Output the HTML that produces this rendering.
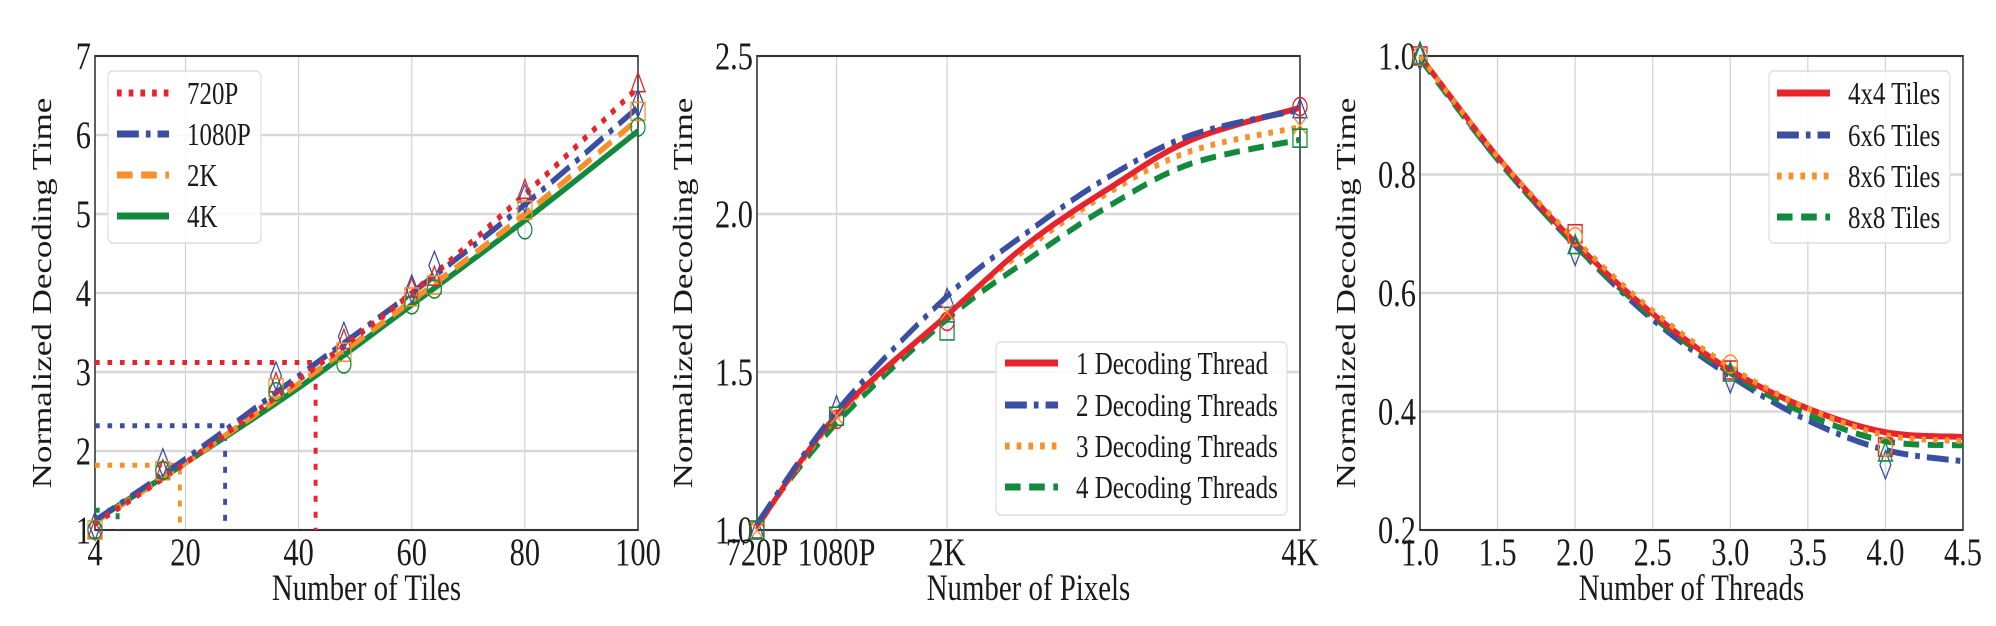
<!DOCTYPE html>
<html><head><meta charset="utf-8"><title>Normalized decoding time charts</title>
<style>
html,body{margin:0;padding:0;background:#fff;}
svg{display:block;}
text{font-family:"Liberation Serif","DejaVu Serif",serif;fill:#1a1a1a;}
</style></head>
<body>
<svg id="fig" width="1996" height="626" viewBox="0 0 2559 626" preserveAspectRatio="none" xmlns="http://www.w3.org/2000/svg"></svg>
<script>
// ---------- Chart 1: Number of Tiles ----------
const c1Names = ["720P","1080P","2K","4K"];
const c1LineX = [4,20,40,60,80,100];
const c1Line720 = [1.08,1.85,2.9,4.0,5.25,6.6];
const c1Line1080 = [1.12,1.9,2.95,4.0,5.12,6.35];
const c1Line2K = [1.1,1.85,2.85,3.9,5.0,6.2];
const c1Line4K = [1.12,1.85,2.8,3.85,4.92,6.05];
const c1MarkX = [4,16,36,48,60,64,80,100];
const c1Mark720 = [1.0,1.75,2.85,3.4,4.05,4.2,5.3,6.65];
const c1Mark1080 = [1.05,1.85,2.95,3.45,4.05,4.35,5.2,6.4];
const c1Mark2K = [1.0,1.75,2.8,3.25,3.95,4.1,5.05,6.3];
const c1Mark4K = [1.0,1.75,2.75,3.1,3.85,4.05,4.8,6.1];
const c1RefY = [3.12,2.32,1.82,1.25];
const c1RefX = [43,27,19,8];
const c1XTicks = [4,20,40,60,80,100];
const c1YTicks = [1,2,3,4,5,6,7];

// ---------- Chart 2: Number of Pixels ----------
const c2Names = ["1 Decoding Thread","2 Decoding Threads","3 Decoding Threads","4 Decoding Threads"];
const c2LineX = [0.92,2.0,3.5,4.6,5.71,6.82,8.29];
const c2Line1 = [1.01,1.364,1.68,1.907,2.083,2.235,2.336];
const c2Line2 = [1.02,1.376,1.74,1.944,2.12,2.25,2.33];
const c2Line3 = [1.01,1.357,1.68,1.894,2.07,2.2,2.275];
const c2Line4 = [1.02,1.338,1.667,1.856,2.027,2.16,2.235];
const c2MarkX = [0.92,2.0,3.5,8.29];
const c2Mark1 = [1.0,1.35,1.66,2.34];
const c2Mark2 = [1.0,1.39,1.73,2.33];
const c2Mark3 = [1.0,1.36,1.69,2.28];
const c2Mark4 = [1.0,1.36,1.63,2.24];
const c2XTickLabels = ["720P","1080P","2K","4K"];
const c2YTicks = [1.0,1.5,2.0,2.5];

// ---------- Chart 3: Number of Threads ----------
const c3Names = ["4x4 Tiles","6x6 Tiles","8x6 Tiles","8x8 Tiles"];
const c3LineX = [1,1.5,2,2.5,3,3.5,4,4.5];
const c3Line44 = [1.0,0.83,0.685,0.565,0.47,0.405,0.365,0.357];
const c3Line66 = [1.0,0.825,0.68,0.555,0.46,0.385,0.335,0.316];
const c3Line86 = [1.0,0.83,0.69,0.57,0.475,0.405,0.36,0.35];
const c3Line88 = [0.995,0.825,0.68,0.56,0.465,0.395,0.35,0.343];
const c3MarkX = [1,2,3,4];
const c3Mark44 = [1.0,0.70,0.47,0.34];
const c3Mark66 = [1.0,0.67,0.455,0.31];
const c3Mark86 = [1.0,0.695,0.48,0.34];
const c3Mark88 = [1.0,0.68,0.465,0.33];
const c3XTicks = [1.0,1.5,2.0,2.5,3.0,3.5,4.0,4.5];
const c3YTicks = [0.2,0.4,0.6,0.8,1.0];

const RED="#e8232b", BLUE="#3a4fa2", ORANGE="#f7902a", GREEN="#128a3e";
const SX=0.78; const V=x=>x/SX;
const NS="http://www.w3.org/2000/svg";
const svg=document.getElementById('fig');
function mk(tag,attrs,parent){const e=document.createElementNS(NS,tag);for(const k in attrs)e.setAttribute(k,attrs[k]);(parent||svg).appendChild(e);return e;}

const STY={
 dotted:"6,9", dashdot:"28,9,6,9", dashed:"20,11", solid:"none"
};

function makeAxes(c){
 c.sx=v=>V(c.px0+(v-c.xmin)/(c.xmax-c.xmin)*(c.px1-c.px0));
 c.sy=v=>c.py1-(v-c.ymin)/(c.ymax-c.ymin)*(c.py1-c.py0);
 const g=mk('g',{});
 
 
 c.g=g;
 c.xt.forEach((t,i)=>{
  const x=c.sx(t);
  const gl=mk('line',{x1:x,x2:x,y1:c.py0,y2:c.py1,stroke:'#d0d0d0','stroke-width':1.5},g);
  
  
  const tl=mk('text',{x:x,y:565,'font-size':39,'text-anchor':'middle'},g);
  tl.textContent=c.xtl?c.xtl[i]:c.xfmt(t);
  
  
 });
 c.yt.forEach(t=>{
  const y=c.sy(t);
  const gl=mk('line',{x1:V(c.px0),x2:V(c.px1),y1:y,y2:y,stroke:'#d8d8d8','stroke-width':2.5},g);
  
  
  const tl=mk('text',{x:V(c.px0-4),y:y+13,'font-size':39,'text-anchor':'end'},g);
  tl.textContent=c.yfmt(t);
  
  
 });
 const fr=mk('rect',{x:V(c.px0),y:c.py0,width:V(c.px1)-V(c.px0),height:c.py1-c.py0,fill:'none',stroke:'#333','stroke-width':2},g);
 
 
 const xl=mk('text',{x:V((c.px0+c.px1)/2),y:600,'font-size':37,'text-anchor':'middle'},g);
 xl.textContent=c.xlabel;
 
 
 const yl=mk('text',{x:0,y:0,'font-size':35,'text-anchor':'middle',transform:`translate(${V(c.ylx)},${(c.py0+c.py1)/2}) rotate(-90)`},g);
 yl.textContent='Normalized Decoding Time';
 
 
}

function smoothPath(pts){
 let d=`M${pts[0][0]},${pts[0][1]}`;
 for(let i=0;i<pts.length-1;i++){
  const p0=pts[i-1]||pts[i],p1=pts[i],p2=pts[i+1],p3=pts[i+2]||p2;
  const c1=[p1[0]+(p2[0]-p0[0])/6,p1[1]+(p2[1]-p0[1])/6];
  const c2=[p2[0]-(p3[0]-p1[0])/6,p2[1]-(p3[1]-p1[1])/6];
  d+=` C${c1[0]},${c1[1]} ${c2[0]},${c2[1]} ${p2[0]},${p2[1]}`;
 }
 return d;
}

function drawLine(c,xs,ys,color,style,name){
 const pts=xs.map((x,i)=>[c.sx(x),c.sy(ys[i])]);
 const p=mk('path',{d:smoothPath(pts),fill:'none',stroke:color,'stroke-width':6,'stroke-dasharray':STY[style]},c.g);
 
 
}

function marker(parent,type,x,y,color){
 let e;
 if(type==='circle') e=mk('ellipse',{cx:x,cy:y,rx:9,ry:9},parent);
 else if(type==='square') e=mk('rect',{x:x-9,y:y-9,width:18,height:18},parent);
 else if(type==='tri') e=mk('polygon',{points:`${x},${y-11} ${x-9},${y+8} ${x+9},${y+8}`},parent);
 else if(type==='diamond') e=mk('polygon',{points:`${x},${y-14} ${x-7},${y} ${x},${y+14} ${x+7},${y}`},parent);
 else { e=mk('path',{d:`M${x-8},${y-8}L${x+8},${y+8}M${x-8},${y+8}L${x+8},${y-8}`},parent); }
 e.setAttribute('fill','none');e.setAttribute('stroke',color);e.setAttribute('stroke-width',1.6);
 return e;
}
function drawMarkers(c,xs,ys,type,color,name){
 xs.forEach((x,i)=>{
  const e=marker(c.g,type,c.sx(x),c.sy(ys[i]),color);
  
  
 });
}

function legend(c,box,rows,entries){
 const lg=mk('g',{},svg);
 
 
 mk('rect',{x:V(box[0]),y:box[1],width:V(box[2])-V(box[0]),height:box[3]-box[1],rx:6,fill:'#fff','fill-opacity':0.85,stroke:'#ddd','stroke-width':1.5},lg);
 entries.forEach((en,i)=>{
  const y=rows.y[i];
  const eg=mk('g',{},lg);
  
  
  mk('line',{x1:V(rows.l0),x2:V(rows.l1),y1:y,y2:y,stroke:en[1],'stroke-width':7,'stroke-dasharray':STY[en[2]]},eg);
  const t=mk('text',{x:V(rows.tx),y:y+11,'font-size':32},eg);
  t.textContent=en[0];
 });
}

// Chart 1
const C1={name:'tiles-chart',px0:95,px1:638,py0:56,py1:530,xmin:4,xmax:100,ymin:1,ymax:7,
 xt:c1XTicks,yt:c1YTicks,xfmt:v=>String(v),yfmt:v=>String(v),xlabel:'Number of Tiles',ylx:51};
makeAxes(C1);
const refColors=[RED,BLUE,ORANGE,GREEN];
c1RefY.forEach((ry,i)=>{
 const p=mk('path',{d:`M${C1.sx(4)},${C1.sy(ry)} H${C1.sx(c1RefX[i])} V${C1.sy(1)}`,fill:'none',stroke:refColors[i],'stroke-width':5,'stroke-dasharray':'6,10'},C1.g);
 
 
});
drawLine(C1,c1LineX,c1Line4K,GREEN,'solid','line-4k');
drawLine(C1,c1LineX,c1Line2K,ORANGE,'dashed','line-2k');
drawLine(C1,c1LineX,c1Line1080,BLUE,'dashdot','line-1080p');
drawLine(C1,c1LineX,c1Line720,RED,'dotted','line-720p');
drawMarkers(C1,c1MarkX,c1Mark720,'tri',RED,'marker-720p');
drawMarkers(C1,c1MarkX,c1Mark1080,'diamond',BLUE,'marker-1080p');
drawMarkers(C1,c1MarkX,c1Mark2K,'square',ORANGE,'marker-2k');
drawMarkers(C1,c1MarkX,c1Mark4K,'circle',GREEN,'marker-4k');
legend(C1,[108,71,261,243],{y:[93,134,175,216],l0:117,l1:169,tx:187},
 [[c1Names[0],RED,'dotted'],[c1Names[1],BLUE,'dashdot'],[c1Names[2],ORANGE,'dashed'],[c1Names[3],GREEN,'solid']]);

// Chart 2
const C2={name:'pixels-chart',px0:757,px1:1300,py0:56,py1:530,xmin:0.92,xmax:8.29,ymin:1.0,ymax:2.5,
 xt:c2MarkX,xtl:c2XTickLabels,yt:c2YTicks,yfmt:v=>v.toFixed(1),xlabel:'Number of Pixels',ylx:692};
makeAxes(C2);
drawLine(C2,c2LineX,c2Line4,GREEN,'dashed','line-4-threads');
drawLine(C2,c2LineX,c2Line3,ORANGE,'dotted','line-3-threads');
drawLine(C2,c2LineX,c2Line1,RED,'solid','line-1-thread');
drawLine(C2,c2LineX,c2Line2,BLUE,'dashdot','line-2-threads');
drawMarkers(C2,c2MarkX,c2Mark1,'circle',RED,'marker-1-thread');
drawMarkers(C2,c2MarkX,c2Mark2,'tri',BLUE,'marker-2-threads');
drawMarkers(C2,c2MarkX,c2Mark3,'x',ORANGE,'marker-3-threads');
drawMarkers(C2,c2MarkX,c2Mark4,'square',GREEN,'marker-4-threads');
legend(C2,[996,342,1287,515],{y:[363,405,446,487],l0:1005,l1:1058,tx:1076},
 [[c2Names[0],RED,'solid'],[c2Names[1],BLUE,'dashdot'],[c2Names[2],ORANGE,'dotted'],[c2Names[3],GREEN,'dashed']]);

// Chart 3
const C3={name:'threads-chart',px0:1420,px1:1963,py0:56,py1:530,xmin:1,xmax:4.5,ymin:0.2,ymax:1.0,
 xt:c3XTicks,yt:c3YTicks,xfmt:v=>v.toFixed(1),yfmt:v=>v.toFixed(1),xlabel:'Number of Threads',ylx:1355};
makeAxes(C3);
drawLine(C3,c3LineX,c3Line66,BLUE,'dashdot','line-6x6');
drawLine(C3,c3LineX,c3Line88,GREEN,'dashed','line-8x8');
drawLine(C3,c3LineX,c3Line44,RED,'solid','line-4x4');
drawLine(C3,c3LineX,c3Line86,ORANGE,'dotted','line-8x6');
drawMarkers(C3,c3MarkX,c3Mark44,'square',RED,'marker-4x4');
drawMarkers(C3,c3MarkX,c3Mark66,'diamond',BLUE,'marker-6x6');
drawMarkers(C3,c3MarkX,c3Mark86,'circle',ORANGE,'marker-8x6');
drawMarkers(C3,c3MarkX,c3Mark88,'tri',GREEN,'marker-8x8');
legend(C3,[1769,71,1950,243],{y:[93,135,176,217],l0:1777,l1:1830,tx:1848},
 [[c3Names[0],RED,'solid'],[c3Names[1],BLUE,'dashdot'],[c3Names[2],ORANGE,'dotted'],[c3Names[3],GREEN,'dashed']]);
</script>
</body></html>
